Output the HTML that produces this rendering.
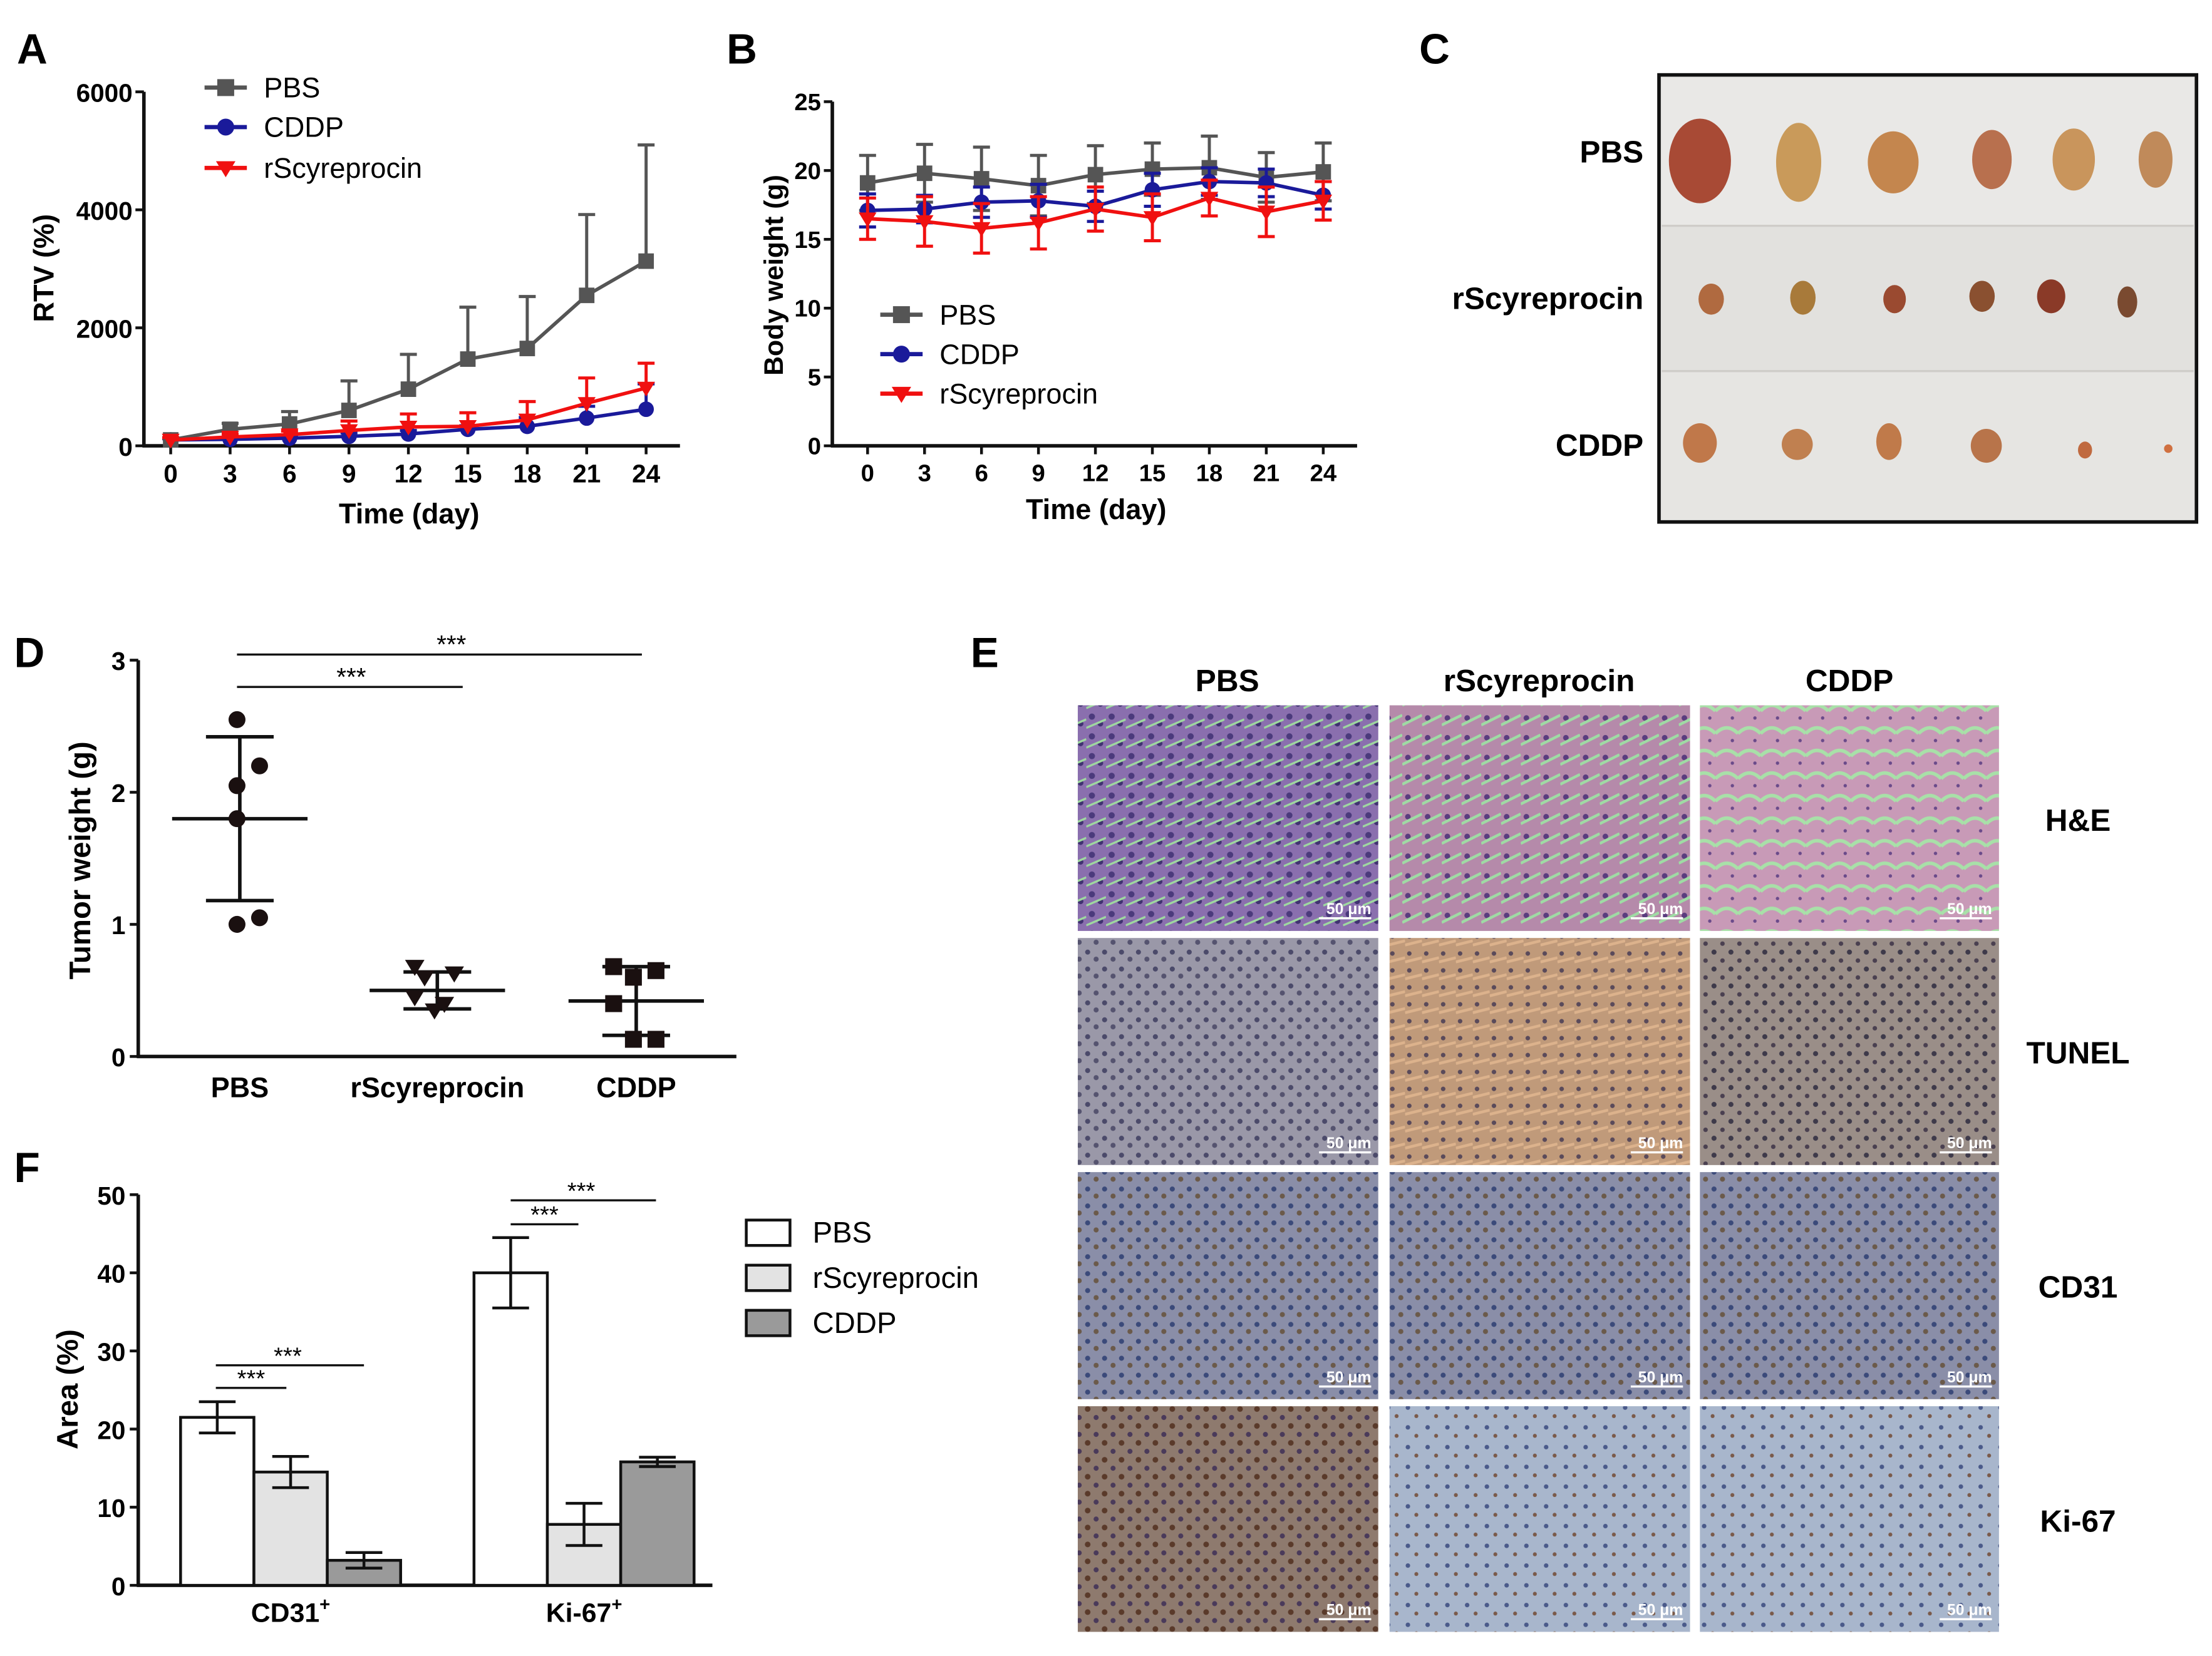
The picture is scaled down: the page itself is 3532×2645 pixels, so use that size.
<!DOCTYPE html>
<html><head><meta charset="utf-8">
<style>
html,body{margin:0;padding:0;background:#fff;}
svg{display:block;}
text{font-family:"Liberation Sans",Arial,sans-serif;}
.b{font-weight:bold;}
</style></head>
<body>
<svg id="fig" width="3532" height="2645" viewBox="0 0 1568 1174" xmlns="http://www.w3.org/2000/svg">
<defs>
<pattern id="pHE" width="14" height="14" patternUnits="userSpaceOnUse"><rect width="14" height="14" fill="#8a6fae"/><circle cx="4" cy="4" r="2.2" fill="#4b3a7c"/><circle cx="10" cy="9" r="2" fill="#3f3170"/><path d="M0 12 L14 6" stroke="#9fd8a0" stroke-width="1.5"/></pattern>
<pattern id="pHE2" width="14" height="14" patternUnits="userSpaceOnUse"><rect width="14" height="14" fill="#b58aaa"/><circle cx="4" cy="5" r="2" fill="#5a3c7e"/><path d="M0 10 L14 3" stroke="#9fdba4" stroke-width="2"/></pattern>
<pattern id="pHE3" width="16" height="16" patternUnits="userSpaceOnUse"><rect width="16" height="16" fill="#c89ab7"/><path d="M0 8 Q8 0 16 8" stroke="#a8e0a8" stroke-width="2.5" fill="none"/><circle cx="12" cy="13" r="1.2" fill="#6a4a8a"/></pattern>
<pattern id="pTU" width="12" height="12" patternUnits="userSpaceOnUse"><rect width="12" height="12" fill="#9a98a8"/><circle cx="3" cy="3" r="1.8" fill="#4b4a6a"/><circle cx="9" cy="8" r="1.8" fill="#55536f"/></pattern>
<pattern id="pTU2" width="12" height="12" patternUnits="userSpaceOnUse"><rect width="12" height="12" fill="#c09a7a"/><circle cx="3" cy="4" r="1.6" fill="#5a4a5a"/><path d="M0 10 L12 7" stroke="#dcb28c" stroke-width="2"/></pattern>
<pattern id="pTU3" width="12" height="12" patternUnits="userSpaceOnUse"><rect width="12" height="12" fill="#9a8e88"/><circle cx="3" cy="3" r="1.8" fill="#3e3a4a"/><circle cx="9" cy="9" r="1.6" fill="#4a4050"/></pattern>
<pattern id="pCD" width="12" height="12" patternUnits="userSpaceOnUse"><rect width="12" height="12" fill="#8a8ea8"/><circle cx="3" cy="3" r="1.8" fill="#3b4a7a"/><circle cx="9" cy="8" r="1.8" fill="#6b5a4a"/></pattern>
<pattern id="pKI" width="12" height="12" patternUnits="userSpaceOnUse"><rect width="12" height="12" fill="#8e7a6e"/><circle cx="3" cy="3" r="2" fill="#5a3a2a"/><circle cx="9" cy="9" r="1.8" fill="#4a3a5a"/></pattern>
<pattern id="pKI2" width="14" height="14" patternUnits="userSpaceOnUse"><rect width="14" height="14" fill="#a8b6cc"/><circle cx="4" cy="4" r="1.6" fill="#4a5a8a"/><circle cx="10" cy="10" r="1.4" fill="#7a5a4a"/></pattern>
</defs>

<!-- Panel letters -->
<text x="12" y="45" font-size="30" class="b">A</text>
<text x="515" y="45" font-size="30" class="b">B</text>
<text x="1006" y="45" font-size="30" class="b">C</text>
<text x="10" y="473" font-size="30" class="b">D</text>
<text x="688" y="473" font-size="30" class="b">E</text>
<text x="10" y="838" font-size="30" class="b">F</text>

<g id="gA"></g>
<g id="gB"></g>

<!-- Panel C photo -->
<g>
<rect x="1176" y="53" width="381" height="317" fill="#e4e3e1" stroke="#111" stroke-width="2.5"/>
<rect x="1178" y="55" width="377" height="105" fill="#e9e8e6"/>
<rect x="1178" y="161" width="377" height="102" fill="#e2e1de"/>
<rect x="1178" y="264" width="377" height="104" fill="#e6e5e2"/>
<line x1="1178" y1="160" x2="1555" y2="160" stroke="#cfcdc9" stroke-width="1.5"/>
<line x1="1178" y1="263" x2="1555" y2="263" stroke="#cfcdc9" stroke-width="1.5"/>
<text x="1165" y="115" font-size="22" class="b" text-anchor="end">PBS</text>
<text x="1165" y="219" font-size="22" class="b" text-anchor="end">rScyreprocin</text>
<text x="1165" y="323" font-size="22" class="b" text-anchor="end">CDDP</text>
<g fill="#b8644a">
<ellipse cx="1205" cy="114" rx="22" ry="30" fill="#a84a35"/><ellipse cx="1275" cy="115" rx="16" ry="28" fill="#c99a5a"/><ellipse cx="1342" cy="115" rx="18" ry="22" fill="#c4864e"/><ellipse cx="1412" cy="113" rx="14" ry="21" fill="#b8704e"/><ellipse cx="1470" cy="113" rx="15" ry="22" fill="#c9955c"/><ellipse cx="1528" cy="113" rx="12" ry="20" fill="#c08a5a"/>
</g>
<g>
<ellipse cx="1213" cy="212" rx="9" ry="11" fill="#b06a40"/><ellipse cx="1278" cy="211" rx="9" ry="12" fill="#a87a3a"/><ellipse cx="1343" cy="212" rx="8" ry="10" fill="#9a4a30"/><ellipse cx="1405" cy="210" rx="9" ry="11" fill="#8a5030"/><ellipse cx="1454" cy="210" rx="10" ry="12" fill="#8a3a28"/><ellipse cx="1508" cy="214" rx="7" ry="11" fill="#7a4a30"/>
</g>
<g>
<ellipse cx="1205" cy="314" rx="12" ry="14" fill="#c0784a"/><ellipse cx="1274" cy="315" rx="11" ry="11" fill="#c08050"/><ellipse cx="1339" cy="313" rx="9" ry="13" fill="#c07a4a"/><ellipse cx="1408" cy="316" rx="11" ry="12" fill="#b8744a"/><ellipse cx="1478" cy="319" rx="5" ry="6" fill="#c06a40"/><ellipse cx="1537" cy="318" rx="3" ry="3" fill="#d07040"/>
</g>
</g>

<g id="gD"></g>

<!-- Panel E histology grid -->
<g id="gE">
<text x="870" y="490" font-size="22" class="b" text-anchor="middle">PBS</text>
<text x="1091" y="490" font-size="22" class="b" text-anchor="middle">rScyreprocin</text>
<text x="1311" y="490" font-size="22" class="b" text-anchor="middle">CDDP</text>
<text x="1473" y="589" font-size="22" class="b" text-anchor="middle">H&amp;E</text>
<text x="1473" y="754" font-size="22" class="b" text-anchor="middle">TUNEL</text>
<text x="1473" y="920" font-size="22" class="b" text-anchor="middle">CD31</text>
<text x="1473" y="1086" font-size="22" class="b" text-anchor="middle">Ki-67</text>
</g>

<g id="gF"></g>

<script>
const NS='http://www.w3.org/2000/svg';
function mk(parent,tag,attrs,txt){const e=document.createElementNS(NS,tag);for(const k in attrs)e.setAttribute(k,attrs[k]);if(txt!==undefined)e.textContent=txt;parent.appendChild(e);return e;}

/* ===== Panel A data ===== */
const aDays=[0,3,6,9,12,15,18,21,24];
const aPBS=[100,280,370,600,960,1470,1650,2550,3130];
const aPBSerr=[30,100,210,500,590,880,880,1370,1970];
const aCDDP=[100,110,130,160,200,280,330,470,620];
const aCDDPerr=[20,30,40,60,60,60,150,200,430];
const aRSC=[100,150,190,260,320,330,440,720,980];
const aRSCerr=[40,50,60,160,220,230,310,430,420];
const aYTicks=[0,2000,4000,6000];

/* ===== Panel B data ===== */
const bPBS=[19.1,19.8,19.4,18.9,19.7,20.1,20.2,19.5,19.9];
const bPBSerr=[2.0,2.1,2.3,2.2,2.1,1.9,2.3,1.8,2.1];
const bCDDP=[17.1,17.2,17.7,17.8,17.4,18.6,19.2,19.1,18.2];
const bCDDPerr=[1.2,1.0,1.1,1.2,1.1,1.2,1.0,1.0,1.0];
const bRSC=[16.5,16.3,15.8,16.2,17.2,16.6,18.0,17.0,17.8];
const bRSCerr=[1.5,1.8,1.8,1.9,1.6,1.7,1.3,1.8,1.4];
const bYTicks=[0,5,10,15,20,25];

/* ===== Panel D data ===== */
const dCats=['PBS','rScyreprocin','CDDP'];
const dPBSpts=[2.55,2.2,2.05,1.8,1.05,1.0];
const dRSCpts=[0.68,0.63,0.6,0.45,0.4,0.35];
const dCDDPpts=[0.68,0.65,0.6,0.4,0.13,0.13];
const dMeans=[1.8,0.5,0.42];
const dSD=[0.62,0.14,0.26];
const dYTicks=[0,1,2,3];

/* ===== Panel F data ===== */
const fGroups=['CD31','Ki-67'];
const fPBS=[21.5,40.0];
const fPBSerr=[2.0,4.5];
const fRSC=[14.5,7.8];
const fRSCerr=[2.0,2.7];
const fCDDP=[3.2,15.8];
const fCDDPerr=[1.0,0.6];
const fYTicks=[0,10,20,30,40,50];

const BLACK='#111';
function axisLine(g,x1,y1,x2,y2){const l=mk(g,'line',{x1,y1,x2,y2,stroke:BLACK,'stroke-width':2.5});

return l;}

function marker(g,type,x,y,color,s){
  let m;
  if(type==='sq') m=mk(g,'rect',{x:x-s,y:y-s,width:2*s,height:2*s,fill:color});
  else if(type==='ci') m=mk(g,'circle',{cx:x,cy:y,r:s,fill:color});
  else m=mk(g,'polygon',{points:`${x-s*1.15},${y-s*0.8} ${x+s*1.15},${y-s*0.8} ${x},${y+s*1.1}`,fill:color});
  
  
  return m;
}

function lineSeries(g,xs,vals,errs,xs_,ys_,color,type,name,twoSided){
  const sg=mk(g,'g',{});
  
  
  vals.forEach((v,i)=>{
    const x=xs_(xs[i]),y=ys_(v),yt=ys_(v+errs[i]),yb=twoSided?ys_(v-errs[i]):y;
    const e=mk(sg,'path',{d:`M${x} ${yb} L${x} ${yt} M${x-6} ${yt} L${x+6} ${yt}`+(twoSided?` M${x-6} ${yb} L${x+6} ${yb}`:''),stroke:color,'stroke-width':2.2,fill:'none'});
    
    
  });
  const p=mk(sg,'polyline',{points:vals.map((v,i)=>xs_(xs[i])+','+ys_(v)).join(' '),fill:'none',stroke:color,'stroke-width':2.5});
  
  
  vals.forEach((v,i)=>marker(sg,type,xs_(xs[i]),ys_(v),color,5.5));
}

function legendEntry(g,x,y,color,type,label){
  const lg=mk(g,'g',{});
  
  
  mk(lg,'line',{x1:x,y1:y,x2:x+30,y2:y,stroke:color,'stroke-width':3});
  marker(lg,type,x+15,y,color,6);
  const t=mk(lg,'text',{x:x+42,y:y+7,'font-size':20},label);
  
  
}

const GREY='#555', BLUE='#1a1a9a', RED='#f01010';

/* ===== Draw A ===== */
(function(){
  const g=document.getElementById('gA');
  const X0=121,X1=458,Y0=316,Y1=65;
  const xs=d=>X0+(X1-X0)*d/24, ys=v=>Y0-(Y0-Y1)*v/6000;
  axisLine(g,102,Y1,102,Y0+1);axisLine(g,101,Y0,482,Y0);
  aYTicks.forEach(v=>{mk(g,'line',{x1:96,y1:ys(v),x2:102,y2:ys(v),stroke:BLACK,'stroke-width':2});
    const t=mk(g,'text',{x:94,y:ys(v)+7,'font-size':18,'text-anchor':'end',class:'b'},v);
    
    });
  aDays.forEach(d=>{mk(g,'line',{x1:xs(d),y1:Y0,x2:xs(d),y2:Y0+6,stroke:BLACK,'stroke-width':2});
    const t=mk(g,'text',{x:xs(d),y:342,'font-size':18,'text-anchor':'middle',class:'b'},d);
    
    });
  const xt=mk(g,'text',{x:290,y:371,'font-size':20,'text-anchor':'middle',class:'b'},'Time (day)');
  
  
  const yt=mk(g,'text',{x:0,y:0,'font-size':20,'text-anchor':'middle',class:'b',transform:'translate(38,190) rotate(-90)'},'RTV (%)');
  
  
  lineSeries(g,aDays,aCDDP,aCDDPerr,xs,ys,BLUE,'ci','cddp',false);
  lineSeries(g,aDays,aPBS,aPBSerr,xs,ys,GREY,'sq','pbs',false);
  lineSeries(g,aDays,aRSC,aRSCerr,xs,ys,RED,'tri','rscyreprocin',false);
  legendEntry(g,145,62,GREY,'sq','PBS');
  legendEntry(g,145,90,BLUE,'ci','CDDP');
  legendEntry(g,145,119,RED,'tri','rScyreprocin');
})();

/* ===== Draw B ===== */
(function(){
  const g=document.getElementById('gB');
  const X0=615,X1=938,Y0=316,Y1=72;
  const xs=d=>X0+(X1-X0)*d/24, ys=v=>Y0-(Y0-Y1)*v/25;
  axisLine(g,590,Y1,590,Y0+1);axisLine(g,589,Y0,962,Y0);
  bYTicks.forEach(v=>{mk(g,'line',{x1:584,y1:ys(v),x2:590,y2:ys(v),stroke:BLACK,'stroke-width':2});
    const t=mk(g,'text',{x:582,y:ys(v)+6,'font-size':17,'text-anchor':'end',class:'b'},v);
    
    });
  aDays.forEach(d=>{mk(g,'line',{x1:xs(d),y1:Y0,x2:xs(d),y2:Y0+6,stroke:BLACK,'stroke-width':2});
    const t=mk(g,'text',{x:xs(d),y:341,'font-size':17,'text-anchor':'middle',class:'b'},d);
    
    });
  const xt=mk(g,'text',{x:777,y:368,'font-size':20,'text-anchor':'middle',class:'b'},'Time (day)');
  
  
  const yt=mk(g,'text',{x:0,y:0,'font-size':19,'text-anchor':'middle',class:'b',transform:'translate(555,195) rotate(-90)'},'Body weight (g)');
  
  
  lineSeries(g,aDays,bPBS,bPBSerr,xs,ys,GREY,'sq','pbs',true);
  lineSeries(g,aDays,bCDDP,bCDDPerr,xs,ys,BLUE,'ci','cddp',true);
  lineSeries(g,aDays,bRSC,bRSCerr,xs,ys,RED,'tri','rscyreprocin',true);
  legendEntry(g,624,223,GREY,'sq','PBS');
  legendEntry(g,624,251,BLUE,'ci','CDDP');
  legendEntry(g,624,279,RED,'tri','rScyreprocin');
})();

/* ===== Draw D ===== */
(function(){
  const g=document.getElementById('gD');
  const Y0=749,Y1=468;const ys=v=>Y0-(Y0-Y1)*v/3;
  const cx=[170,310,451];
  axisLine(g,98,Y1,98,Y0+1);axisLine(g,97,Y0,522,Y0);
  dYTicks.forEach(v=>{mk(g,'line',{x1:92,y1:ys(v),x2:98,y2:ys(v),stroke:BLACK,'stroke-width':2});
    const t=mk(g,'text',{x:89,y:ys(v)+7,'font-size':18,'text-anchor':'end',class:'b'},v);
    
    });
  dCats.forEach((c,i)=>{const t=mk(g,'text',{x:cx[i],y:778,'font-size':20,'text-anchor':'middle',class:'b'},c);
    
    });
  const yt=mk(g,'text',{x:0,y:0,'font-size':21,'text-anchor':'middle',class:'b',transform:'translate(64,610) rotate(-90)'},'Tumor weight (g)');
  
  
  const pts=[dPBSpts,dRSCpts,dCDDPpts], types=['ci','tri','sq'];
  const offs=[[0,16,0,0,16,0],[-14,14,-7,-14,7,0],[-14,16,0,-14,16,0]];
  pts.forEach((arr,i)=>{
    const m=dMeans[i],sd=dSD[i],x=cx[i];
    const eb=mk(g,'path',{d:`M${x-48} ${ys(m)} L${x+48} ${ys(m)} M${x} ${ys(m+sd)} L${x} ${ys(m-sd)} M${x-24} ${ys(m+sd)} L${x+24} ${ys(m+sd)} M${x-24} ${ys(m-sd)} L${x+24} ${ys(m-sd)}`,stroke:BLACK,'stroke-width':2.5,fill:'none'});
    
    
    arr.forEach((v,j)=>marker(g,types[i],x+offs[i][j]-2,ys(v),'#1a1010',6));
  });
  const sig=[[168,455,464,320],[168,328,487,249]];
  sig.forEach(s=>{const l=mk(g,'line',{x1:s[0],y1:s[2],x2:s[1],y2:s[2],stroke:BLACK,'stroke-width':1.5});
    
    
    const t=mk(g,'text',{x:s[3],y:s[2]-1,'font-size':18,'text-anchor':'middle'},'***');
    
    });
})();

/* ===== Draw E images ===== */
(function(){
  const g=document.getElementById('gE');
  const cols=[764,985,1205], w=[213,213,212];
  const rows=[500,665,831,997], h=[160,161,161,160];
  const fills=[['url(#pHE)','url(#pHE2)','url(#pHE3)'],['url(#pTU)','url(#pTU2)','url(#pTU3)'],['url(#pCD)','url(#pCD)','url(#pCD)'],['url(#pKI)','url(#pKI2)','url(#pKI2)']];
  const names=['he','tunel','cd31','ki67'], cn=['pbs','rscyreprocin','cddp'];
  rows.forEach((y,r)=>cols.forEach((x,c)=>{
    const im=mk(g,'rect',{x,y,width:w[c],height:h[r],fill:fills[r][c]});
    
    
    const sb=mk(g,'text',{x:x+w[c]-5,y:y+h[r]-12,'font-size':11,'text-anchor':'end',fill:'#fff',class:'b'},'50 μm');
    
    
    mk(g,'line',{x1:x+w[c]-42,y1:y+h[r]-9,x2:x+w[c]-5,y2:y+h[r]-9,stroke:'#fff','stroke-width':1.5});
  }));
})();

/* ===== Draw F ===== */
(function(){
  const g=document.getElementById('gF');
  const Y0=1124,Y1=847;const ys=v=>Y0-(Y0-Y1)*v/50;
  axisLine(g,98,Y1,98,Y0+1);axisLine(g,97,Y0,505,Y0);
  fYTicks.forEach(v=>{mk(g,'line',{x1:92,y1:ys(v),x2:98,y2:ys(v),stroke:BLACK,'stroke-width':2});
    const t=mk(g,'text',{x:89,y:ys(v)+7,'font-size':18,'text-anchor':'end',class:'b'},v);
    
    });
  const yt=mk(g,'text',{x:0,y:0,'font-size':21,'text-anchor':'middle',class:'b',transform:'translate(55,985) rotate(-90)'},'Area (%)');
  
  
  const starts=[128,336], bw=52;
  const series=[[fPBS,fPBSerr,'#ffffff','pbs'],[fRSC,fRSCerr,'#e3e3e3','rscyreprocin'],[fCDDP,fCDDPerr,'#9a9a9a','cddp']];
  fGroups.forEach((grp,gi)=>{
    series.forEach((s,si)=>{
      const x=starts[gi]+si*bw, v=s[0][gi], e=s[1][gi];
      const b=mk(g,'rect',{x,y:ys(v),width:bw,height:Y0-ys(v),fill:s[2],stroke:BLACK,'stroke-width':2});
      
      
      const cx=x+bw/2;
      const eb=mk(g,'path',{d:`M${cx} ${ys(v-e)} L${cx} ${ys(v+e)} M${cx-13} ${ys(v+e)} L${cx+13} ${ys(v+e)} M${cx-13} ${ys(v-e)} L${cx+13} ${ys(v-e)}`,stroke:BLACK,'stroke-width':2,fill:'none'});
      
      
    });
    const cxg=starts[gi]+bw*1.5;
    const t=mk(g,'text',{x:cxg,y:1150,'font-size':19,'text-anchor':'middle',class:'b'});
    
    
    t.appendChild(document.createTextNode(grp));
    const sup=mk(t,'tspan',{dy:-8,'font-size':13},'+');
  });
  const sig=[[153,258,968,204],[153,203,984,178],[362,465,851,412],[362,410,868,386]];
  sig.forEach(s=>{const l=mk(g,'line',{x1:s[0],y1:s[2],x2:s[1],y2:s[2],stroke:BLACK,'stroke-width':1.5});
    
    
    const t=mk(g,'text',{x:s[3],y:s[2]-1,'font-size':17,'text-anchor':'middle'},'***');
    
    });
  const leg=[['#ffffff','PBS',865],['#e3e3e3','rScyreprocin',897],['#9a9a9a','CDDP',929]];
  leg.forEach(L=>{const r=mk(g,'rect',{x:529,y:L[2],width:31,height:18,fill:L[0],stroke:BLACK,'stroke-width':2});
    
    
    const t=mk(g,'text',{x:576,y:L[2]+16,'font-size':21},L[1]);
    
    });
})();
</script>
</svg>
</body></html>
